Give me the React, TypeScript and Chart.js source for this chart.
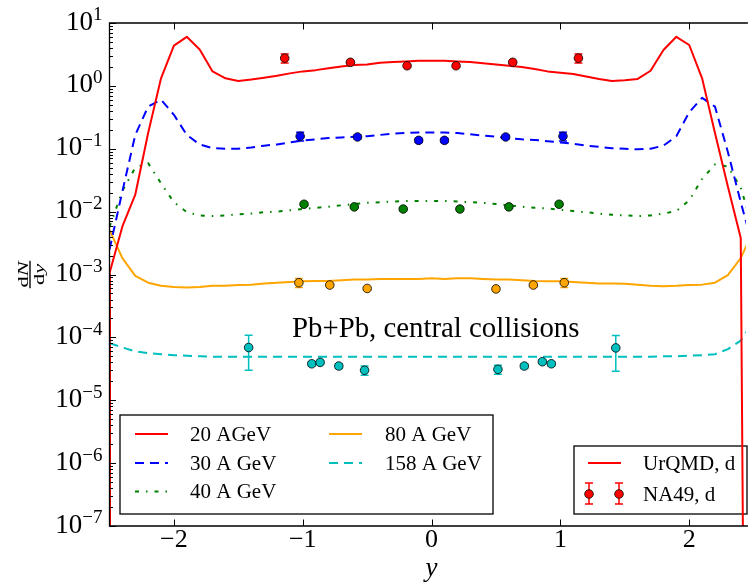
import React, { useEffect, useRef } from "react";
import { Chart, registerables } from "chart.js";

Chart.register(...registerables);

// Rapidity grid of the UrQMD curves
const rapidity = [
  -2.5, -2.4, -2.3, -2.2, -2.1, -2.0, -1.9, -1.8, -1.7, -1.6, -1.5, -1.4, -1.3,
  -1.2, -1.1, -1.0, -0.9, -0.8, -0.7, -0.6, -0.5, -0.4, -0.3, -0.2, -0.1, 0.0,
  0.1, 0.2, 0.3, 0.4, 0.5, 0.6, 0.7, 0.8, 0.9, 1.0, 1.1, 1.2, 1.3, 1.4, 1.5,
  1.6, 1.7, 1.8, 1.9, 2.0, 2.1, 2.2, 2.3, 2.4, 2.5,
];

// UrQMD dN/dy of deuterons (empty bins given as 1e-30)
const urqmd20 = [
  1.05e-3, 5.8e-3, 1.86e-2, 0.178, 1.32, 4.37, 6.03, 3.8, 1.7, 1.32, 1.2, 1.26,
  1.35, 1.45, 1.58, 1.7, 1.78, 1.91, 2.04, 2.14, 2.19, 2.34, 2.4, 2.45, 2.51,
  2.51, 2.51, 2.45, 2.4, 2.29, 2.19, 2.09, 2.0, 1.86, 1.7, 1.62, 1.55, 1.41,
  1.29, 1.2, 1.23, 1.29, 1.74, 3.72, 6.03, 4.47, 1.32, 0.178, 0.0251, 3.8e-3,
  1e-30,
];
const urqmd30 = [
  2.5e-3, 0.021, 0.166, 0.468, 0.603, 0.347, 0.166, 0.117, 0.102, 0.1, 0.1,
  0.105, 0.112, 0.117, 0.126, 0.135, 0.141, 0.148, 0.151, 0.155, 0.158, 0.166,
  0.174, 0.178, 0.182, 0.182, 0.182, 0.178, 0.17, 0.162, 0.155, 0.148, 0.141,
  0.138, 0.132, 0.126, 0.12, 0.112, 0.107, 0.102, 0.1, 0.098, 0.1, 0.112,
  0.158, 0.38, 0.646, 0.468, 0.089, 0.0141, 2.5e-3,
];
const urqmd40 = [
  5.7e-3, 0.0214, 0.05, 0.059, 0.0282, 0.0141, 9.8e-3, 8.7e-3, 8.5e-3, 8.7e-3,
  9.1e-3, 9.3e-3, 9.8e-3, 0.01, 0.0105, 0.011, 0.0115, 0.012, 0.0126, 0.0132,
  0.0138, 0.0141, 0.0145, 0.0148, 0.0148, 0.0148, 0.0148, 0.0145, 0.0141,
  0.0138, 0.0132, 0.0126, 0.012, 0.0115, 0.0112, 0.0107, 0.0102, 9.8e-3,
  9.3e-3, 8.9e-3, 8.7e-3, 8.5e-3, 8.7e-3, 9.3e-3, 0.0102, 0.0151, 0.0331,
  0.0562, 0.0525, 0.024, 5.0e-3,
];
const urqmd80 = [
  5.1e-3, 1.82e-3, 9.5e-4, 7.4e-4, 6.6e-4, 6.3e-4, 6.2e-4, 6.3e-4, 6.6e-4,
  6.6e-4, 6.8e-4, 6.9e-4, 7.2e-4, 7.4e-4, 7.6e-4, 7.8e-4, 7.9e-4, 7.9e-4,
  8.1e-4, 8.3e-4, 8.3e-4, 8.5e-4, 8.5e-4, 8.5e-4, 8.5e-4, 8.7e-4, 8.5e-4,
  8.7e-4, 8.7e-4, 8.5e-4, 8.3e-4, 8.3e-4, 8.1e-4, 7.9e-4, 7.8e-4, 7.8e-4,
  7.6e-4, 7.4e-4, 7.2e-4, 7.2e-4, 7.1e-4, 6.9e-4, 6.6e-4, 6.5e-4, 6.6e-4,
  6.8e-4, 6.9e-4, 7.4e-4, 9.8e-4, 1.82e-3, 5.1e-3,
];
const urqmd158 = [
  8.1e-5, 6.9e-5, 6.0e-5, 5.6e-5, 5.4e-5, 5.2e-5, 5.1e-5, 5.0e-5, 4.9e-5,
  4.9e-5, 4.9e-5, 4.9e-5, 4.9e-5, 4.9e-5, 4.9e-5, 4.9e-5, 4.9e-5, 4.9e-5,
  4.9e-5, 4.9e-5, 4.9e-5, 4.9e-5, 4.9e-5, 4.9e-5, 4.9e-5, 4.9e-5, 4.9e-5,
  4.9e-5, 4.9e-5, 4.9e-5, 4.9e-5, 4.9e-5, 4.9e-5, 4.9e-5, 4.9e-5, 4.9e-5,
  4.9e-5, 4.9e-5, 4.9e-5, 4.9e-5, 4.9e-5, 4.9e-5, 4.9e-5, 5.0e-5, 5.0e-5,
  5.1e-5, 5.2e-5, 5.4e-5, 6.5e-5, 8.9e-5, 1.8e-4,
];

// NA49 measured deuteron yields
const na49Rap20 = [-1.14, -0.63, -0.19, 0.19, 0.63, 1.14];
const na49Val20 = [2.76, 2.37, 2.09, 2.09, 2.37, 2.76];
const na49Err20 = [0.45, 0.12, 0.1, 0.1, 0.12, 0.45];

const na49Rap30 = [-1.02, -0.575, -0.1, 0.1, 0.575, 1.02];
const na49Val30 = [0.158, 0.154, 0.136, 0.136, 0.154, 0.158];
const na49Err30 = [0.025, 0.01, 0.01, 0.01, 0.01, 0.025];

const na49Rap40 = [-0.99, -0.6, -0.22, 0.22, 0.6, 0.99];
const na49Val40 = [0.0131, 0.0119, 0.011, 0.011, 0.0119, 0.0131];
const na49Err40 = [0.0008, 0.0006, 0.0006, 0.0006, 0.0006, 0.0008];

const na49Rap80 = [-1.03, -0.79, -0.5, 0.5, 0.79, 1.03];
const na49Val80 = [7.4e-4, 6.8e-4, 6.0e-4, 5.9e-4, 6.8e-4, 7.4e-4];
const na49Err80 = [1.2e-4, 4e-5, 4e-5, 4e-5, 4e-5, 1.2e-4];

const na49Rap158 = [-1.42, -0.93, -0.865, -0.72, -0.52, 0.515, 0.72, 0.86, 0.93, 1.43];
const na49Val158 = [6.9e-5, 3.8e-5, 4.0e-5, 3.5e-5, 3.0e-5, 3.1e-5, 3.5e-5, 4.1e-5, 3.8e-5, 6.8e-5];
const na49Err158 = [3.9e-5, 3e-6, 3e-6, 3e-6, 5e-6, 5e-6, 3e-6, 3e-6, 3e-6, 3.9e-5];

// Axis ticks and labels
const xTickValues = [-2, -1, 0, 1, 2];
const yTickExponents = [1, 0, -1, -2, -3, -4, -5, -6, -7];
const energyLabels = ["20 AGeV", "30 A GeV", "40 A GeV", "80 A GeV", "158 A GeV"];
const modelLabel = "UrQMD, d";
const dataLabel = "NA49, d";
const systemLabel = "Pb+Pb, central collisions";

// Styles per beam energy
const seriesColors = ["#ff0000", "#0000ff", "#008000", "#ffa500", "#00bfbf"];
const seriesDashes: number[][] = [[], [9, 6], [4, 7, 1.5, 7], [], [9, 6]];

const SERIF = '"Liberation Serif", "Times New Roman", serif';

const curves = [urqmd20, urqmd30, urqmd40, urqmd80, urqmd158];
const measured = [
  { x: na49Rap20, y: na49Val20, err: na49Err20 },
  { x: na49Rap30, y: na49Val30, err: na49Err30 },
  { x: na49Rap40, y: na49Val40, err: na49Err40 },
  { x: na49Rap80, y: na49Val80, err: na49Err80 },
  { x: na49Rap158, y: na49Val158, err: na49Err158 },
];

function fmtExp(e: number) {
  return e < 0 ? "\u2212" + String(-e) : String(e);
}

function drawMarker(ctx: CanvasRenderingContext2D, x: number, y: number, color: string) {
  ctx.beginPath();
  ctx.arc(x, y, 4.3, 0, Math.PI * 2);
  ctx.fillStyle = color;
  ctx.fill();
  ctx.lineWidth = 0.8;
  ctx.strokeStyle = "#000";
  ctx.stroke();
}

function drawErrBar(ctx: CanvasRenderingContext2D, x: number, yt: number, yb: number, color: string) {
  ctx.save();
  ctx.strokeStyle = color;
  ctx.lineWidth = 1.5;
  ctx.setLineDash([]);
  ctx.beginPath();
  ctx.moveTo(x, yt);
  ctx.lineTo(x, yb);
  ctx.moveTo(x - 4, yt);
  ctx.lineTo(x + 4, yt);
  ctx.moveTo(x - 4, yb);
  ctx.lineTo(x + 4, yb);
  ctx.stroke();
  ctx.restore();
}

function drawSample(ctx: CanvasRenderingContext2D, x0: number, x1: number, y: number, i: number) {
  ctx.save();
  ctx.strokeStyle = seriesColors[i];
  ctx.lineWidth = 2;
  ctx.setLineDash(seriesDashes[i]);
  ctx.beginPath();
  ctx.moveTo(x0, y);
  ctx.lineTo(x1, y);
  ctx.stroke();
  ctx.restore();
}

const decorPlugin = {
  id: "decor",
  beforeDatasetsDraw(chart: any) {
    const ctx: CanvasRenderingContext2D = chart.ctx;
    const { left, bottom } = chart.chartArea;
    const ys = chart.scales.y;
    ctx.save();
    // the 20 AGeV curve falls to an empty bin at the left edge
    ctx.strokeStyle = seriesColors[0];
    ctx.lineWidth = 2;
    ctx.beginPath();
    ctx.moveTo(left + 0.5, ys.getPixelForValue(urqmd20[0]));
    ctx.lineTo(left + 0.5, bottom);
    ctx.stroke();

    ctx.font = `21px ${SERIF}`;
    ctx.textBaseline = "alphabetic";
    ctx.textAlign = "left";
    // energy legend
    ctx.fillStyle = "#fff";
    ctx.fillRect(120, 415, 373, 99);
    ctx.strokeStyle = "#000";
    ctx.lineWidth = 1.3;
    ctx.strokeRect(120, 415, 373, 99);
    const rows = [434, 463, 491.5];
    energyLabels.forEach((lab, i) => {
      const col = i < 3 ? 0 : 1;
      const ry = rows[col === 0 ? i : i - 3];
      const sx = col === 0 ? 135 : 329;
      const tx = col === 0 ? 190 : 385;
      drawSample(ctx, sx, sx + 33, ry, i);
      ctx.fillStyle = "#000";
      ctx.fillText(lab, tx, ry + 6.7);
    });
    // model / data legend
    ctx.fillStyle = "#fff";
    ctx.fillRect(574, 446, 173, 68);
    ctx.strokeStyle = "#000";
    ctx.lineWidth = 1.3;
    ctx.strokeRect(574, 446, 173, 68);
    drawSample(ctx, 588, 621, 463, 0);
    ctx.fillStyle = "#000";
    ctx.fillText(modelLabel, 643, 463 + 6.7);
    [589, 619].forEach((mx) => {
      drawErrBar(ctx, mx, 483, 504, seriesColors[0]);
      drawMarker(ctx, mx, 494, seriesColors[0]);
    });
    ctx.fillStyle = "#000";
    ctx.fillText(dataLabel, 643, 494 + 6.7);
    ctx.restore();
  },
  beforeDatasetDraw(chart: any, args: any) {
    const ds = chart.data.datasets[args.index];
    if (!ds.errors) return;
    const ctx: CanvasRenderingContext2D = chart.ctx;
    const xs = chart.scales.x;
    const ys = chart.scales.y;
    ds.data.forEach((pt: any, j: number) => {
      const e = ds.errors[j];
      const px = xs.getPixelForValue(pt.x);
      drawErrBar(ctx, px, ys.getPixelForValue(pt.y + e), ys.getPixelForValue(pt.y - e), ds.errorColor);
    });
  },
  afterDraw(chart: any) {
    const ctx: CanvasRenderingContext2D = chart.ctx;
    const { left, right, top, bottom } = chart.chartArea;
    const xs = chart.scales.x;
    const ys = chart.scales.y;
    ctx.save();
    // frame
    ctx.strokeStyle = "#000";
    ctx.lineWidth = 1.3;
    ctx.setLineDash([]);
    ctx.beginPath();
    ctx.moveTo(right + 2, top);
    ctx.lineTo(left, top);
    ctx.lineTo(left, bottom);
    ctx.lineTo(right + 2, bottom);
    ctx.stroke();
    // x ticks (top and bottom, pointing inward)
    ctx.lineWidth = 1;
    ctx.beginPath();
    xTickValues.forEach((v) => {
      const px = Math.round(xs.getPixelForValue(v)) + 0.5;
      ctx.moveTo(px, top);
      ctx.lineTo(px, top + 6.5);
      ctx.moveTo(px, bottom);
      ctx.lineTo(px, bottom - 6.5);
    });
    // y ticks, major and minor
    yTickExponents.forEach((e) => {
      const py = Math.round(ys.getPixelForValue(Math.pow(10, e))) + 0.5;
      ctx.moveTo(left, py);
      ctx.lineTo(left + 6.5, py);
      if (e > -7) {
        for (let m = 2; m <= 9; m++) {
          const my = Math.round(ys.getPixelForValue(m * Math.pow(10, e - 1))) + 0.5;
          ctx.moveTo(left, my);
          ctx.lineTo(left + 3.5, my);
        }
      }
    });
    ctx.stroke();

    ctx.fillStyle = "#000";
    // x tick labels
    ctx.font = `26px ${SERIF}`;
    ctx.textAlign = "center";
    ctx.textBaseline = "alphabetic";
    xTickValues.forEach((v) => {
      const lab = v < 0 ? "\u2212" + String(-v) : String(v);
      ctx.fillText(lab, xs.getPixelForValue(v), bottom + 20.5);
    });
    // y tick labels 10^e
    ctx.textAlign = "left";
    yTickExponents.forEach((e) => {
      const py = ys.getPixelForValue(Math.pow(10, e));
      const sup = fmtExp(e);
      ctx.font = `19px ${SERIF}`;
      const sw = ctx.measureText(sup).width;
      ctx.font = `27px ${SERIF}`;
      const bw = ctx.measureText("10").width;
      const x0 = 102.5 - sw - bw;
      ctx.fillText("10", x0, py + 6.5);
      ctx.font = `19px ${SERIF}`;
      ctx.fillText(sup, x0 + bw, py - 2.6);
    });
    // x axis title
    ctx.font = `italic 27px ${SERIF}`;
    ctx.textAlign = "center";
    ctx.fillText("y", xs.getPixelForValue(0), 576);
    // y axis title: dN/dy as a fraction, rotated
    ctx.save();
    ctx.translate(30, 274.5);
    ctx.rotate(-Math.PI / 2);
    ctx.scale(1.4, 0.85);
    ctx.fillRect(-9.8, -0.8, 19.6, 1.6);
    const piece = (parts: [string, boolean][], baseY: number) => {
      let w = 0;
      parts.forEach(([t, it]) => {
        ctx.font = `${it ? "italic " : ""}16px ${SERIF}`;
        w += ctx.measureText(t).width;
      });
      let x = -w / 2;
      ctx.textAlign = "left";
      parts.forEach(([t, it]) => {
        ctx.font = `${it ? "italic " : ""}16px ${SERIF}`;
        ctx.fillText(t, x, baseY);
        x += ctx.measureText(t).width;
      });
    };
    piece([["d", false], ["N", true]], -2.2);
    piece([["d", false], ["y", true]], 16.5);
    ctx.restore();
    // system annotation
    ctx.font = `28.8px ${SERIF}`;
    ctx.textAlign = "left";
    ctx.fillText(systemLabel, 292, 337);
    ctx.restore();
  },
};

export default function App() {
  const canvasRef = useRef<HTMLCanvasElement | null>(null);

  useEffect(() => {
    const canvas = canvasRef.current;
    if (!canvas) return;
    const datasets: any[] = [
      ...measured.map((m, i) => ({
        label: dataLabel,
        data: m.x.map((x, j) => ({ x, y: m.y[j] })),
        showLine: false,
        pointRadius: 4.3,
        pointHoverRadius: 4.3,
        pointBackgroundColor: seriesColors[i],
        pointBorderColor: "#000",
        pointBorderWidth: 0.8,
        errors: m.err,
        errorColor: seriesColors[i],
      })),
      ...curves.map((c, i) => ({
        label: energyLabels[i],
        data: rapidity.map((x, j) => ({ x, y: c[j] })),
        showLine: true,
        pointRadius: 0,
        pointHoverRadius: 0,
        borderColor: seriesColors[i],
        borderWidth: 2,
        borderDash: seriesDashes[i],
        borderJoinStyle: "round",
        fill: false,
        tension: 0,
      })),
    ];
    const chart = new Chart(canvas, {
      type: "scatter",
      data: { datasets },
      options: {
        responsive: false,
        animation: false,
        devicePixelRatio: 1,
        events: [],
        layout: { padding: { left: 109.5, top: 23, right: 0, bottom: 58 } },
        plugins: { legend: { display: false }, tooltip: { enabled: false } },
        scales: {
          x: { type: "linear", min: -2.5, max: 2.44, display: false },
          y: { type: "logarithmic", min: 1e-7, max: 10, display: false },
        },
      },
      plugins: [decorPlugin as any],
    });
    return () => chart.destroy();
  }, []);

  return (
    <div style={{ position: "fixed", left: 0, top: 0, width: 751, height: 584, background: "#fff" }}>
      <canvas ref={canvasRef} width={751} height={584} style={{ display: "block" }} />
    </div>
  );
}
